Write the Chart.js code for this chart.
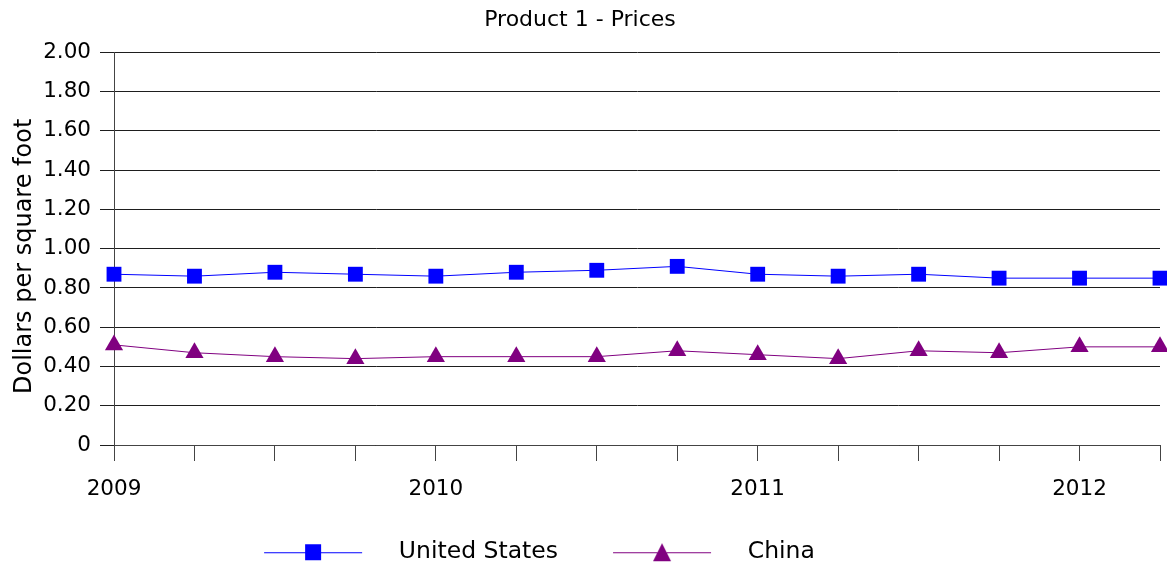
<!DOCTYPE html>
<html>
<head>
<meta charset="utf-8">
<title>Product 1 - Prices</title>
<script src="https://cdn.jsdelivr.net/npm/chart.js@4.4.1/dist/chart.umd.min.js"></script>
<style>
  html, body { margin: 0; padding: 0; background: #ffffff; }
  #wrap { width: 1167px; height: 570px; position: relative; }
</style>
</head>
<body>
<div id="wrap"><canvas id="chart" width="1167" height="570"></canvas></div>
<script>
// Quarterly observations, 2009 Q1 through 2012 Q2
const quarters = [
  '2009 Q1', '2009 Q2', '2009 Q3', '2009 Q4',
  '2010 Q1', '2010 Q2', '2010 Q3', '2010 Q4',
  '2011 Q1', '2011 Q2', '2011 Q3', '2011 Q4',
  '2012 Q1', '2012 Q2'
];
const yearTicks = ['2009', '2010', '2011', '2012'];

// Dollars per square foot
const unitedStates = [0.87, 0.86, 0.88, 0.87, 0.86, 0.88, 0.89, 0.91, 0.87, 0.86, 0.87, 0.85, 0.85, 0.85];
const china        = [0.51, 0.47, 0.45, 0.44, 0.45, 0.45, 0.45, 0.48, 0.46, 0.44, 0.48, 0.47, 0.50, 0.50];

const US_COLOR = '#0000ff';
const CN_COLOR = '#800080';
const AXIS_COLOR = '#1e1e1e';
const TICK_COLOR = '#444444';
const FONT = "'DejaVu Sans', 'Liberation Sans', Arial, sans-serif";

// Legend swatch: a short line with the series marker in its middle
function legendSwatch(color, shape) {
  const lead = 45, lineLen = 98, trail = 25, h = 22;
  const c = document.createElement('canvas');
  c.width = lead + lineLen + trail;
  c.height = h;
  const g = c.getContext('2d');
  const cy = h / 2;
  g.strokeStyle = color;
  g.lineWidth = 1;
  g.beginPath();
  g.moveTo(lead, cy + 0.5);
  g.lineTo(lead + lineLen, cy + 0.5);
  g.stroke();
  g.fillStyle = color;
  const mx = lead + lineLen / 2;
  if (shape === 'rect') {
    g.fillRect(mx - 8, cy - 8, 16, 16);
  } else {
    g.beginPath();
    g.moveTo(mx, cy - 9);
    g.lineTo(mx + 9, cy + 9);
    g.lineTo(mx - 9, cy + 9);
    g.closePath();
    g.fill();
  }
  return c;
}

const swatches = [legendSwatch(US_COLOR, 'rect'), legendSwatch(CN_COLOR, 'triangle')];

// Nudge the legend row left and down a little below the axis labels
const legendPlacement = {
  id: 'legendPlacement',
  afterLayout(chart) {
    const lg = chart.legend;
    if (!lg) return;
    lg.left -= 63;
    lg.right -= 63;
    lg.top += 4;
    lg.bottom += 4;
  }
};

new Chart(document.getElementById('chart'), {
  type: 'line',
  data: {
    labels: quarters,
    datasets: [
      {
        label: 'United States',
        data: unitedStates,
        borderColor: US_COLOR,
        backgroundColor: US_COLOR,
        borderWidth: 1,
        pointStyle: 'rect',
        pointRadius: 10.5,
        pointHoverRadius: 10.5,
        pointBackgroundColor: US_COLOR,
        pointBorderColor: US_COLOR,
        pointBorderWidth: 0,
        tension: 0,
        clip: false
      },
      {
        label: 'China',
        data: china,
        borderColor: CN_COLOR,
        backgroundColor: CN_COLOR,
        borderWidth: 1,
        pointStyle: 'triangle',
        pointRadius: 10.5,
        pointHoverRadius: 10.5,
        pointBackgroundColor: CN_COLOR,
        pointBorderColor: CN_COLOR,
        pointBorderWidth: 0,
        tension: 0,
        clip: false
      }
    ]
  },
  options: {
    responsive: false,
    animation: false,
    devicePixelRatio: 1,
    layout: { autoPadding: false, padding: { left: 0, right: 7, top: 0, bottom: 0 } },
    plugins: {
      title: {
        display: true,
        text: 'Product 1 - Prices',
        color: '#000000',
        font: { family: FONT, size: 22, weight: 'normal' },
        padding: { top: 7, bottom: 19 }
      },
      legend: {
        display: true,
        position: 'bottom',
        labels: {
          color: '#000000',
          font: { family: FONT, size: 23.5 },
          usePointStyle: true,
          pointStyleWidth: 168,
          padding: 10,
          generateLabels(chart) {
            return chart.data.datasets.map((ds, i) => ({
              text: ds.label,
              fillStyle: ds.borderColor,
              strokeStyle: ds.borderColor,
              lineWidth: 0,
              pointStyle: swatches[i],
              hidden: false,
              datasetIndex: i
            }));
          }
        }
      },
      tooltip: { enabled: false }
    },
    scales: {
      x: {
        type: 'category',
        offset: false,
        afterFit(scale) {
          scale.height = 81.5;
          scale.paddingLeft = 0;
          scale.paddingRight = 0;
        },
        grid: {
          display: true,
          drawOnChartArea: false,
          drawTicks: true,
          tickLength: 16,
          color: TICK_COLOR,
          lineWidth: 1
        },
        border: { display: true, color: TICK_COLOR, width: 1 },
        ticks: {
          autoSkip: false,
          maxRotation: 0,
          minRotation: 0,
          padding: 16,
          color: '#000000',
          font: { family: FONT, size: 21.5 },
          callback(value, index) {
            const q = quarters[index];
            if (q.endsWith('Q1')) {
              return yearTicks.find(y => q.startsWith(y)) || '';
            }
            return '';
          }
        }
      },
      y: {
        min: 0,
        max: 2,
        afterFit(scale) { scale.width = 114; },
        title: {
          display: true,
          text: 'Dollars per square foot\u00a0\u00a0',
          color: '#000000',
          font: { family: FONT, size: 24 },
          padding: { top: 10, bottom: 0 }
        },
        grid: {
          display: true,
          drawOnChartArea: true,
          drawTicks: true,
          tickLength: 14,
          color: AXIS_COLOR,
          lineWidth: 1
        },
        border: { display: true, color: TICK_COLOR, width: 1 },
        ticks: {
          stepSize: 0.2,
          padding: 9,
          color: '#000000',
          font: { family: FONT, size: 21.5 },
          callback(value) {
            return value === 0 ? '0' : Number(value).toFixed(2);
          }
        }
      }
    }
  },
  plugins: [legendPlacement]
});
</script>
</body>
</html>
